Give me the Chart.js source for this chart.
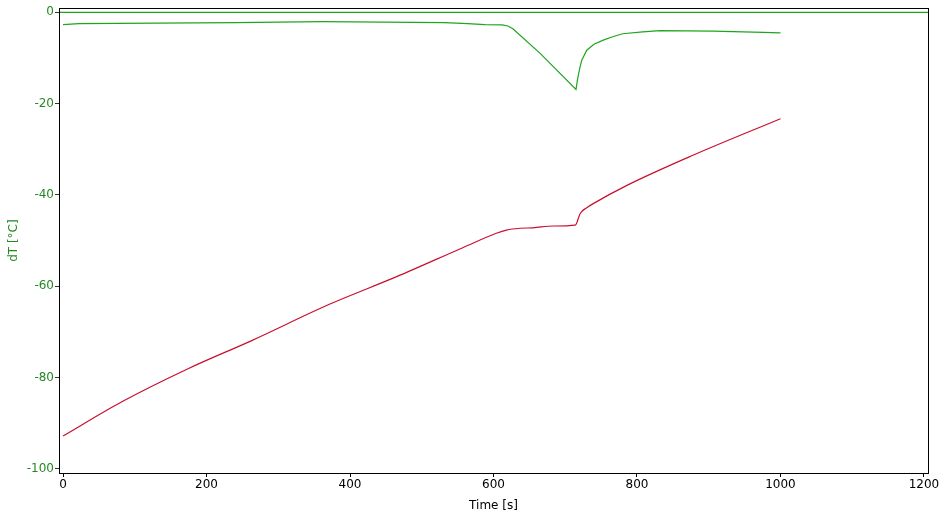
<html lang="en">
<head>
  <meta charset="UTF-8">
  <title>dT vs Time</title>
  <style>
    html, body { margin: 0; padding: 0; background: #fff; }
    #wrap { width: 944px; height: 518px; }
  </style>
</head>
<body>
  <div id="wrap"><canvas id="chart" width="944" height="518"></canvas></div>

  <script src="https://cdn.jsdelivr.net/npm/chart.js"></script>
  <script>
    // values
    const greenTime = [0, 22, 240, 361, 532, 564, 588, 612, 620, 627, 665, 715, 717, 720, 723, 730, 740, 753, 765, 780, 808, 832, 906, 976, 1000];
    const greenDT = [-2.7, -2.5, -2.25, -2.05, -2.25, -2.5, -2.7, -2.75, -3.0, -3.6, -9.0, -16.9, -14.8, -12.4, -10.5, -8.3, -7.0, -6.1, -5.4, -4.7, -4.3, -4.0, -4.1, -4.4, -4.5];

    const redTime = [0, 82, 175, 263, 372, 465, 558, 604, 618, 637, 655, 683, 714, 721, 730, 739, 786, 878, 1000];
    const redDT = [-92.8, -85.3, -78.0, -71.9, -63.9, -57.9, -51.5, -48.4, -47.7, -47.3, -47.2, -46.8, -46.6, -44.0, -42.8, -41.9, -37.9, -31.3, -23.3];

    const zeroTime = [-20, 1220];
    const zeroDT = [0, 0];

    const xTicks = [0, 200, 400, 600, 800, 1000, 1200];
    const yTicks = [0, -20, -40, -60, -80, -100];

    const GREEN = '#1ea51e';
    const GREEN_TXT = '#238a23';
    const RED = '#c8102e';
    const FONT = 'DejaVu Sans';

    const toPts = (xs, ys) => xs.map((x, i) => ({ x: x, y: ys[i] }));

    // box round the plot area (top and right sides too)
    const frame = {
      id: 'frame',
      afterDraw(chart) {
        const a = chart.chartArea;
        const ctx = chart.ctx;
        ctx.save();
        ctx.strokeStyle = '#000';
        ctx.lineWidth = 1;
        ctx.strokeRect(Math.round(a.left) + 0.5, Math.round(a.top) + 0.5,
          Math.round(a.right - a.left), Math.round(a.bottom - a.top));
        ctx.restore();
      }
    };

    new Chart(document.getElementById('chart'), {
      type: 'line',
      data: {
        datasets: [{
          data: toPts(zeroTime, zeroDT),
          borderColor: GREEN,
          borderWidth: 1.2
        }, {
          data: toPts(greenTime, greenDT),
          borderColor: GREEN,
          borderWidth: 1.2,
          tension: 0
        }, {
          data: toPts(redTime, redDT),
          borderColor: RED,
          borderWidth: 1.2,
          cubicInterpolationMode: 'monotone'
        }]
      },
      options: {
        responsive: false,
        animation: false,
        elements: { point: { radius: 0 } },
        layout: { padding: { top: 8, right: 16, left: 0, bottom: 0 } },
        plugins: { legend: { display: false }, tooltip: { enabled: false } },
        scales: {
          x: {
            type: 'linear',
            min: -5.6,
            max: 1205.6,
            afterBuildTicks: s => { s.ticks = xTicks.map(v => ({ value: v })); },
            afterFit: s => { s.height = 45; },
            grid: { display: true, drawOnChartArea: false, drawTicks: true, tickLength: 4, color: '#000' },
            border: { display: false },
            ticks: { color: '#000', padding: 1, maxRotation: 0, callback: v => String(v), font: { family: FONT, size: 12 } },
            title: { display: true, text: 'Time [s]', color: '#000', padding: { top: 0, bottom: 5 }, font: { family: FONT, size: 12 } }
          },
          y: {
            type: 'linear',
            min: -100.9,
            max: 0.9,
            afterBuildTicks: s => { s.ticks = yTicks.map(v => ({ value: v })); },
            afterFit: s => { s.width = 59; },
            grid: { display: true, drawOnChartArea: false, drawTicks: true, tickLength: 4, color: '#333' },
            border: { display: false },
            ticks: { color: GREEN_TXT, padding: 1, callback: v => String(v), font: { family: FONT, size: 12 } },
            title: { display: true, text: 'dT [°C]', color: GREEN_TXT, padding: { top: 7, bottom: 0 }, font: { family: FONT, size: 12 } }
          }
        }
      },
      plugins: [frame]
    });
  </script>
</body>
</html>
